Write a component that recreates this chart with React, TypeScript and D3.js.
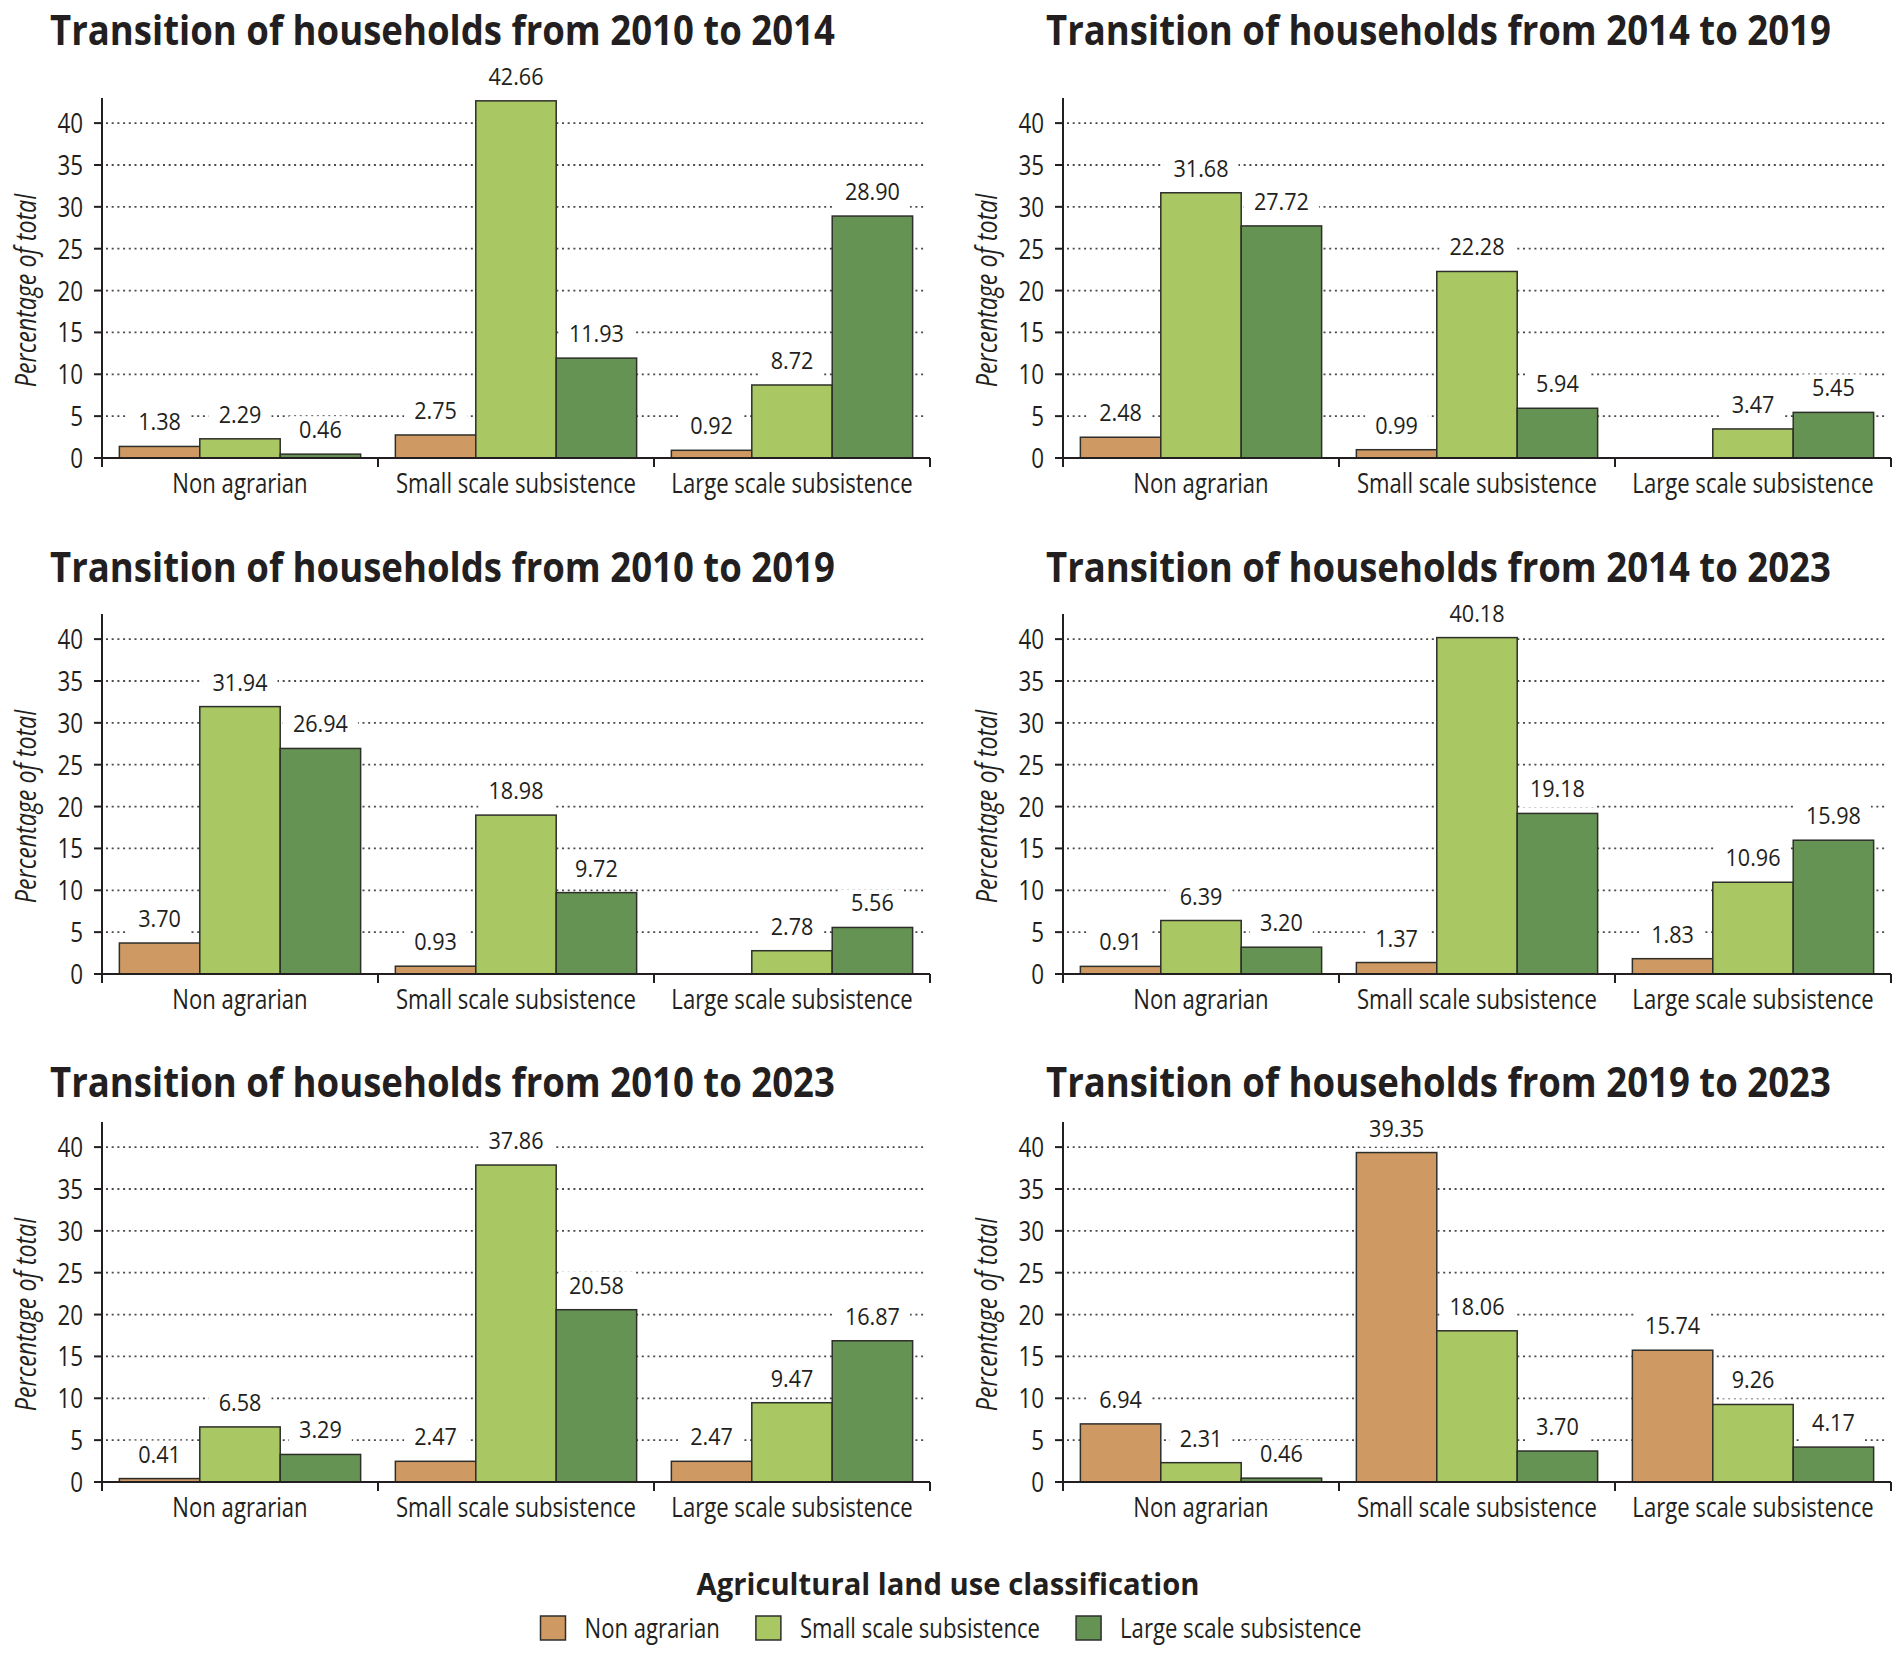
import * as d3 from 'd3';

// categories on the x axis, and the same three classes as series / legend
const categories = ['Non agrarian', 'Small scale subsistence', 'Large scale subsistence'];
const classes = ['Non agrarian', 'Small scale subsistence', 'Large scale subsistence'];
const classColors = ['#CF9963', '#A9C863', '#659353'];
const yTicks = [0, 5, 10, 15, 20, 25, 30, 35, 40];

const titles = [
  'Transition of households from 2010 to 2014',
  'Transition of households from 2014 to 2019',
  'Transition of households from 2010 to 2019',
  'Transition of households from 2014 to 2023',
  'Transition of households from 2010 to 2023',
  'Transition of households from 2019 to 2023',
];

// each row: one category, values per class (null = no bar)
const t2010to2014 = [
  [1.38, 2.29, 0.46],
  [2.75, 42.66, 11.93],
  [0.92, 8.72, 28.9],
];
const t2014to2019 = [
  [2.48, 31.68, 27.72],
  [0.99, 22.28, 5.94],
  [null, 3.47, 5.45],
];
const t2010to2019 = [
  [3.7, 31.94, 26.94],
  [0.93, 18.98, 9.72],
  [null, 2.78, 5.56],
];
const t2014to2023 = [
  [0.91, 6.39, 3.2],
  [1.37, 40.18, 19.18],
  [1.83, 10.96, 15.98],
];
const t2010to2023 = [
  [0.41, 6.58, 3.29],
  [2.47, 37.86, 20.58],
  [2.47, 9.47, 16.87],
];
const t2019to2023 = [
  [6.94, 2.31, 0.46],
  [39.35, 18.06, 3.7],
  [15.74, 9.26, 4.17],
];
const panelValues = [t2010to2014, t2014to2019, t2010to2019, t2014to2023, t2010to2023, t2019to2023];

const W = 1902;
const H = 1662;
const colAxisX = [102, 1063];
const colTitleX = [50, 1046];
const rowBaseline = [458, 974, 1482];
const rowTitleY = [45, 582, 1097];
const plotWidth = 828;
const yMax = 43;
const plotHeight = 360;
const titleWidth = 785;

const sans = "'Open Sans', 'Noto Sans', sans-serif";
const ink = '#231f20';
// the reference uses a condensed face; squeeze a regular one horizontally
const squeeze = 0.79;
const squeezeNum = 0.9;
const bodyWeight = 500;

const measureCtx = typeof document !== 'undefined' ? document.createElement('canvas').getContext('2d') : null;
function textWidth(s: string, font: string) {
  if (!measureCtx) return s.length * 10;
  measureCtx.font = font;
  return measureCtx.measureText(s).width;
}

function CText({
  x,
  y,
  sx,
  size,
  anchor = 'start',
  weight = bodyWeight,
  italic = false,
  rotate = 0,
  children,
}: {
  x: number;
  y: number;
  sx: number;
  size: number;
  anchor?: string;
  weight?: number;
  italic?: boolean;
  rotate?: number;
  children: string | number;
}) {
  return (
    <text
      transform={`translate(${x},${y})${rotate ? ` rotate(${rotate})` : ''} scale(${sx},1)`}
      textAnchor={anchor}
      fontFamily={sans}
      fontSize={size}
      fontWeight={weight}
      fontStyle={italic ? 'italic' : 'normal'}
      fill={ink}
    >
      {children}
    </text>
  );
}

function Panel({ index }: { index: number }) {
  const col = index % 2;
  const row = Math.floor(index / 2);
  const axisX = colAxisX[col];
  const baseY = rowBaseline[row];
  const values = panelValues[index];

  const x0 = d3.scaleBand<string>().domain(categories).range([axisX, axisX + plotWidth]).padding(0);
  const x1 = d3
    .scaleBand<string>()
    .domain(classes)
    .range([0, x0.bandwidth()])
    .paddingInner(0)
    .paddingOuter(0.216);
  const y = d3.scaleLinear().domain([0, yMax]).range([baseY, baseY - plotHeight]);

  const labelFont = `${bodyWeight} 24px ${sans}`;
  const bars = categories.flatMap((c, ci) =>
    classes.map((k, ki) => ({ c, k, ki, v: values[ci][ki] })).filter((d) => d.v != null)
  );
  const titleSx = titleWidth / textWidth(titles[index], `700 42px ${sans}`);

  return (
    <g>
      <CText x={colTitleX[col]} y={rowTitleY[row]} sx={titleSx} size={42} weight={700}>
        {titles[index]}
      </CText>

      {/* grid */}
      {yTicks
        .filter((t) => t > 0)
        .map((t) => (
          <line
            key={t}
            x1={axisX + 4}
            x2={axisX + plotWidth - 4}
            y1={y(t)}
            y2={y(t)}
            stroke="#4a4a4a"
            strokeWidth={1.8}
            strokeDasharray="2 3.7"
          />
        ))}

      {/* white boxes behind value labels */}
      {bars.map((d) => {
        const cx = (x0(d.c) ?? 0) + (x1(d.k) ?? 0) + x1.bandwidth() / 2;
        const w = textWidth((d.v as number).toFixed(2), labelFont) * squeezeNum + 20;
        return <rect key={`bg-${d.c}-${d.k}`} x={cx - w / 2} y={y(d.v as number) - 38} width={w} height={32} fill="#fff" />;
      })}

      {/* bars */}
      {bars.map((d) => (
        <rect
          key={`bar-${d.c}-${d.k}`}
          x={(x0(d.c) ?? 0) + (x1(d.k) ?? 0)}
          y={y(d.v as number)}
          width={x1.bandwidth()}
          height={baseY - y(d.v as number)}
          fill={classColors[d.ki]}
          stroke="#2e2e2a"
          strokeWidth={1.5}
        />
      ))}

      {/* value labels */}
      {bars.map((d) => (
        <CText
          key={`lab-${d.c}-${d.k}`}
          x={(x0(d.c) ?? 0) + (x1(d.k) ?? 0) + x1.bandwidth() / 2}
          y={y(d.v as number) - 16}
          sx={squeezeNum}
          size={24}
          anchor="middle"
        >
          {(d.v as number).toFixed(2)}
        </CText>
      ))}

      {/* y axis */}
      <line x1={axisX} x2={axisX} y1={y(yMax)} y2={baseY + 9} stroke={ink} strokeWidth={2} />
      {yTicks.map((t) => (
        <g key={t}>
          <line x1={axisX - 8} x2={axisX} y1={y(t)} y2={y(t)} stroke={ink} strokeWidth={2} />
          <CText x={axisX - 19} y={y(t) + 10} sx={0.8} size={28} anchor="end">
            {t}
          </CText>
        </g>
      ))}
      <CText x={axisX - 66} y={y(20)} sx={0.8} size={29} anchor="middle" italic rotate={-90}>
        Percentage of total
      </CText>

      {/* x axis */}
      <line x1={axisX} x2={axisX + plotWidth} y1={baseY} y2={baseY} stroke={ink} strokeWidth={2} />
      {categories.map((c) => (
        <g key={c}>
          <line
            x1={(x0(c) ?? 0) + x0.bandwidth()}
            x2={(x0(c) ?? 0) + x0.bandwidth()}
            y1={baseY}
            y2={baseY + 9}
            stroke={ink}
            strokeWidth={2}
          />
          <CText x={(x0(c) ?? 0) + x0.bandwidth() / 2} y={baseY + 35} sx={squeeze} size={28} anchor="middle">
            {c}
          </CText>
        </g>
      ))}
    </g>
  );
}

function Legend() {
  const font = `${bodyWeight} 28px ${sans}`;
  const sw = 25;
  const gapText = 19;
  const gapItem = 36;
  const widths = classes.map((c) => textWidth(c, font) * squeeze);
  const total = d3.sum(widths) + classes.length * (sw + gapText) + (classes.length - 1) * gapItem;
  let cursor = W / 2 - total / 2;
  const items = classes.map((c, i) => {
    const x = cursor;
    cursor += sw + gapText + widths[i] + gapItem;
    return { c, i, x };
  });
  const heading = 'Agricultural land use classification';
  const headSx = 503 / textWidth(heading, `700 31px ${sans}`);
  return (
    <g>
      <CText x={948} y={1595} sx={headSx} size={31} weight={700} anchor="middle">
        {heading}
      </CText>
      {items.map((d) => (
        <g key={d.c}>
          <rect x={d.x} y={1616} width={sw} height={24} fill={classColors[d.i]} stroke="#2e2e2a" strokeWidth={1.5} />
          <CText x={d.x + sw + gapText} y={1638} sx={squeeze} size={28}>
            {d.c}
          </CText>
        </g>
      ))}
    </g>
  );
}

export default function App() {
  return (
    <div style={{ position: 'absolute', left: 0, top: 0, background: '#fff' }}>
      <svg width={W} height={H} viewBox={`0 0 ${W} ${H}`} style={{ display: 'block' }}>
        <rect width={W} height={H} fill="#fff" />
        {titles.map((_, i) => (
          <Panel key={i} index={i} />
        ))}
        <Legend />
      </svg>
    </div>
  );
}
